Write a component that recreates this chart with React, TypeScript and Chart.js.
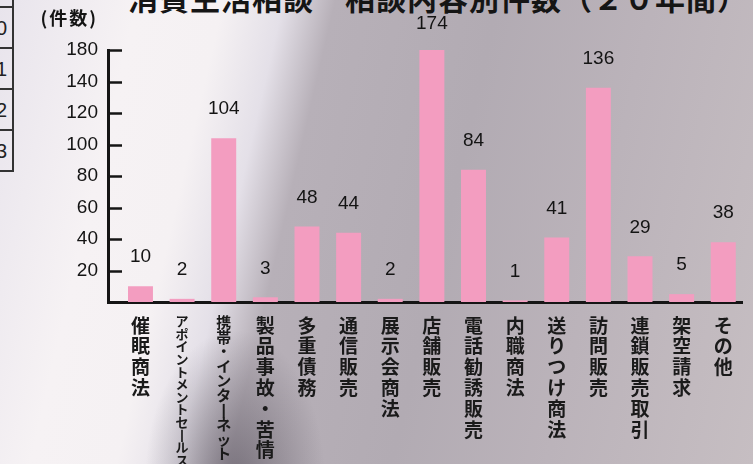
import { useEffect, useRef } from 'react';
import { Chart, registerables } from 'chart.js';

Chart.register(...registerables);

const categories = [
  '催眠商法',
  'アポイントメントセールス',
  '携帯・インターネット',
  '製品事故・苦情',
  '多重債務',
  '通信販売',
  '展示会商法',
  '店舗販売',
  '電話勧誘販売',
  '内職商法',
  '送りつけ商法',
  '訪問販売',
  '連鎖販売取引',
  '架空請求',
  'その他',
];
const counts = [10, 2, 104, 3, 48, 44, 2, 174, 84, 1, 41, 136, 29, 5, 38];
const yTickValues = [20, 40, 60, 80, 100, 120, 140, 160];
const yTickLabels = ['20', '40', '60', '80', '100', '120', '140', '180'];
const unitLabel = '(件数)';
const titleText = '消費生活相談　相談内容別件数（２０年間）';
const sideTableDigits = ['0', '1', '2', '3'];

const verticalChars = (s: string) => s.split('').map((c) => (c === 'ー' ? '丨' : c));

const decorPlugin = {
  id: 'decor',
  afterDatasetsDraw(chart: any) {
    const { ctx, chartArea, scales } = chart;
    const y = scales.y;
    ctx.save();
    ctx.strokeStyle = '#151515';
    ctx.lineWidth = 2.5;
    y.ticks.forEach((_t: any, i: number) => {
      const py = Math.round(y.getPixelForTick(i)) + 0.5;
      ctx.beginPath();
      ctx.moveTo(chartArea.left, py);
      ctx.lineTo(chartArea.left + 14, py);
      ctx.stroke();
    });
    const meta = chart.getDatasetMeta(0);
    ctx.fillStyle = '#141414';
    ctx.font = '19px "Liberation Sans", Arial, sans-serif';
    ctx.textAlign = 'center';
    ctx.textBaseline = 'middle';
    meta.data.forEach((bar: any, i: number) => {
      const top = Math.max(bar.y, chartArea.top + 3);
      ctx.fillText(String(counts[i]), bar.x, top - 29);
    });
    ctx.font = 'bold 18px "Noto Sans CJK JP", sans-serif';
    ctx.textAlign = 'right';
    (ctx as any).letterSpacing = '2px';
    ctx.fillText(unitLabel, chartArea.left - 10, 18);
    ctx.restore();
  },
};

export default function App() {
  const canvasRef = useRef<HTMLCanvasElement | null>(null);

  useEffect(() => {
    if (!canvasRef.current) return;
    const chart = new Chart(canvasRef.current, {
      type: 'bar',
      data: {
        datasets: [
          {
            data: counts.map((v, i) => ({ x: i, y: v })),
            backgroundColor: '#f39dc0',
            borderWidth: 0,
            categoryPercentage: 1,
            barPercentage: 0.6,
          },
        ],
      },
      options: {
        animation: false,
        responsive: true,
        maintainAspectRatio: false,
        layout: { padding: { top: 50, right: 11, left: 0, bottom: 0 } },
        plugins: { legend: { display: false }, tooltip: { enabled: false }, title: { display: false } },
        scales: {
          x: {
            type: 'linear',
            offset: false,
            min: -0.78,
            max: 14.45,
            grid: { display: false, drawTicks: false },
            border: { display: true, color: '#151515', width: 3 },
            afterBuildTicks: (scale: any) => {
              scale.ticks = categories.map((_c, i) => ({ value: i }));
            },
            afterFit: (scale: any) => {
              scale.height = 162;
            },
            ticks: {
              autoSkip: false,
              maxRotation: 0,
              minRotation: 0,
              padding: 13,
              color: '#1a1a1a',
              callback: (value: any) => {
                const c = categories[Math.round(Number(value))];
                return c ? verticalChars(c) : '';
              },
              font: (ctx: any) => {
                const i = ctx.index;
                if (i === 1) return { family: '"Noto Sans CJK JP", sans-serif', size: 13, weight: 'bold', lineHeight: '12.6px' };
                if (i === 2) return { family: '"Noto Sans CJK JP", sans-serif', size: 15, weight: 'bold', lineHeight: '14.6px' };
                return { family: '"Noto Sans CJK JP", sans-serif', size: 19, weight: 'bold', lineHeight: '20.8px' };
              },
            },
          },
          y: {
            type: 'linear',
            min: 0,
            max: 160,
            grid: { display: false, drawTicks: false },
            border: { display: true, color: '#151515', width: 3 },
            afterBuildTicks: (scale: any) => {
              scale.ticks = yTickValues.map((v) => ({ value: v }));
            },
            afterFit: (scale: any) => {
              scale.width = 108;
            },
            ticks: {
              padding: 10,
              color: '#141414',
              font: { family: '"Liberation Sans", Arial, sans-serif', size: 19 },
              callback: (value: any) => {
                const idx = yTickValues.indexOf(Number(value));
                return idx >= 0 ? yTickLabels[idx] : '';
              },
            },
          },
        },
      } as any,
      plugins: [decorPlugin],
    });
    return () => chart.destroy();
  }, []);

  return (
    <div
      style={{
        position: 'fixed',
        left: 0,
        top: 0,
        width: 753,
        height: 464,
        overflow: 'hidden',
        background:
          'radial-gradient(ellipse 90px 150px at 235px 480px, rgba(70,64,76,0.55), rgba(70,64,76,0) 100%),' +
          'linear-gradient(103deg, #e8e4ec 0%, #f6f2f4 16%, #f5f1f3 26%, #e4e0e8 33%, #b7b0b8 39%, #b2abb3 58%, #bbb3ba 76%, #c6bec2 100%)',
      }}
    >
      <div
        style={{
          position: 'absolute',
          left: -30,
          top: -36,
          width: 42,
          borderRight: '2px solid #333',
          fontFamily: '"Liberation Sans", Arial, sans-serif',
          fontSize: 20,
          color: '#222',
        }}
      >
        <div style={{ height: 42, borderBottom: '2px solid #333' }} />
        {sideTableDigits.map((d) => (
          <div
            key={d}
            style={{ height: 41, borderBottom: '2px solid #333', textAlign: 'right', paddingRight: 5, lineHeight: '41px', boxSizing: 'border-box' as const }}
          >
            {d}
          </div>
        ))}
      </div>
      <div
        style={{
          position: 'absolute',
          left: 128,
          top: -25,
          whiteSpace: 'nowrap',
          fontFamily: '"Noto Sans CJK JP", sans-serif',
          fontWeight: 'bold',
          fontSize: 30,
          letterSpacing: 1,
          color: '#151515',
        }}
      >
        {titleText}
      </div>
      <canvas ref={canvasRef} style={{ position: 'absolute', left: 0, top: 0 }} />
    </div>
  );
}
